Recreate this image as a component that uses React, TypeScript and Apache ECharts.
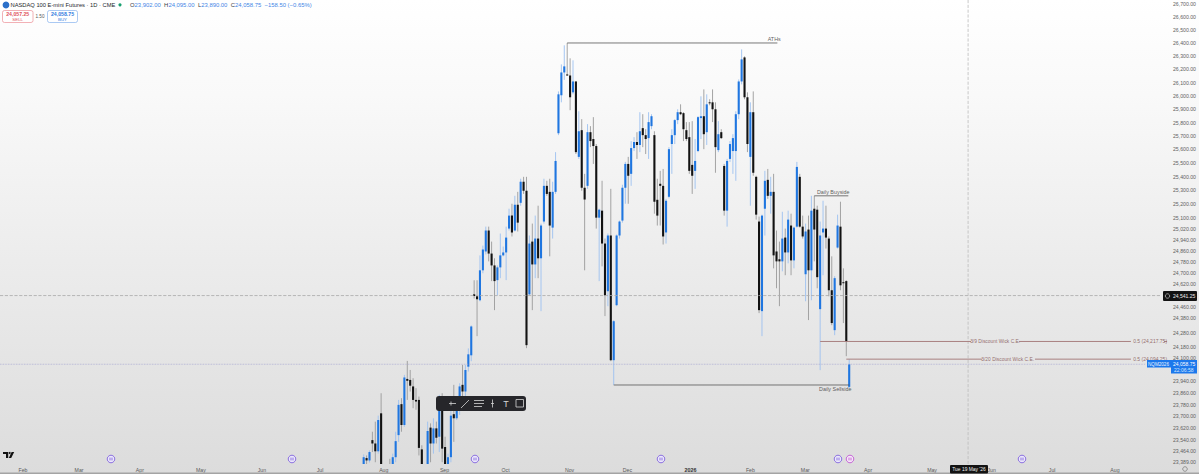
import React, { useEffect, useRef } from "react";
import * as echarts from "echarts";

const opens = [
  23360,23415,23399,23537,23514,23461,23720,23340,23300,23360,
  23350,23421,23571,23783,23640,23957,23950,23905,23812,23812,
  23474,23330,23350,23622,23514,23617,23560,23812,23490,23360,
  23421,23714,23686,23767,23916,23870,24042,24121,24550,24536,
  24508,24721,24856,25007,24841,24756,24651,24742,24828,24849,
  25021,25115,25007,25194,25208,25362,25296,24550,24927,24763,
  24949,24807,25072,25332,25288,25028,25288,25720,26004,26176,
  26161,26153,26026,26108,25545,25743,25318,25332,25728,25677,
  25625,25100,25151,24913,24572,24971,24087,24473,24971,25079,
  25318,25493,25420,25610,25655,25633,25758,25706,25684,25773,
  25706,25230,25347,25332,24993,25252,25640,25706,25818,25877,
  25870,25743,25691,25486,25442,25588,25833,25847,25728,25951,
  25951,25899,25595,25728,25478,25151,25530,25588,25588,25862,
  26108,26290,25989,25545,25877,25398,25072,24431,25165,25376,
  25259,25288,24856,24800,24785,24956,24849,25043,24792,25035,
  25398,25035,24693,25014,24721,25165,25158,24445,24993,25021,
  24949,24579,24297,24884,25035,24636,24644,23902,
];
const closes = [
  23421,23399,23456,23514,23461,23674,23360,23300,23340,23330,
  23421,23530,23778,23640,23967,23944,23910,23812,23801,23484,
  23340,23300,23599,23514,23617,23553,23812,23479,23370,23421,
  23704,23686,23770,23905,23870,24019,24128,24323,24538,24515,
  24721,24870,25007,24841,24756,24644,24742,24828,24849,24956,
  25115,24993,25194,25064,25362,25296,24192,24913,24763,24949,
  24807,25043,25332,25273,25043,25288,25515,26011,26176,26222,
  26153,25989,26108,25580,25735,25318,25232,25728,25662,25625,
  25100,25158,24913,24543,24971,24087,24360,24971,25072,25318,
  25493,25406,25610,25655,25633,25735,25706,25677,25803,25847,
  25216,25115,25332,24964,25223,25602,25706,25818,25877,25862,
  25750,25677,25442,25406,25515,25840,25847,25713,25936,25944,
  25899,25617,25713,25684,25151,25515,25640,25684,25862,26108,
  26275,25989,25640,25877,25428,25122,24438,25115,25369,25259,
  25288,24828,24785,24785,24949,24849,25086,24792,25028,25471,
  25035,24964,25000,24721,25151,25014,24672,24971,25021,24956,
  24579,24347,24665,25043,24614,24629,24217.25,24058.75,
];
const highs = [
  23440,23433,23467,23594,23663,23704,23858,23370,23370,23410,
  23445,23594,23812,23824,23985,24082,24019,23962,23893,23835,
  23502,23370,23663,23651,23686,23663,23847,23858,23560,23445,
  23755,23916,23790,23927,24054,24054,24169,24330,24650,24650,
  24828,24898,25035,25035,24927,24807,24756,24985,24891,25035,
  25165,25201,25259,25288,25384,25398,25398,24971,25057,25115,
  25187,25057,25384,25369,25384,25362,25580,26033,26237,26382,
  26400,26283,26268,26108,25884,25825,25420,25788,25773,25840,
  25640,25165,25369,24949,24985,25310,24368,24978,25079,25340,
  25508,25545,25662,25691,25728,25877,25862,25750,25877,25862,
  25735,25384,25442,25456,25237,25617,25750,25825,25899,25936,
  25877,25803,25803,25810,25677,25847,25996,26048,26011,25974,
  26048,25951,25810,25750,25493,25530,25662,25713,25884,26123,
  26351,26298,26026,25951,26033,25406,25108,25122,25442,25456,
  25398,25420,25007,24927,25143,25021,25151,25129,25035,25508,
  25420,25115,25057,25115,25259,25259,25187,25072,25223,25187,
  24964,24821,24679,25122,25216,24735,24650,24095,
];
const lows = [
  23330,23370,23385,23456,23387,23445,23340,23280,23280,23300,
  23330,23387,23525,23594,23628,23812,23870,23755,23744,23433,
  23300,23280,23320,23387,23445,23514,23456,23387,23340,23330,
  23387,23525,23674,23709,23835,23824,24008,24080,24520,24255,
  24500,24700,24835,24785,24644,24438,24543,24665,24821,24651,
  25007,24964,25000,25000,25187,25273,24171,24543,24438,24665,
  24665,24431,25057,25259,24821,24949,25273,25706,25951,26120,
  26150,25892,26011,25566,25530,25296,24721,25310,25617,25493,
  25021,24644,24749,24396,24466,24080,23915,24466,24949,25064,
  25201,25201,25332,25588,25530,25580,25617,25566,25530,25750,
  25129,25043,25043,24906,24913,25240,25420,25640,25788,25855,
  25662,25662,25420,25273,25310,25580,25677,25602,25633,25929,
  25803,25428,25580,25677,25115,25035,25508,25420,25369,25825,
  26086,25974,25580,25187,25406,25086,24417,24255,24971,25237,
  25129,24735,24593,24466,24714,24686,24771,24686,24735,25028,
  25028,24949,24501,24368,24508,24785,24593,24018,24686,24877,
  24536,24332,24262,24877,24579,24347,24115,23890,
];

const priceTicks = [
  26700,26600,26500,26400,26300,26200,26100,26000,25900,25800,25700,25600,25500,25400,25300,25200,25100,
  25020,24940,24860,24780,24700,24620,24460,24380,24280,24180,24100,23940,23860,23780,23700,23620,23540,23464,23389,
];
const monthLabels = ["Feb","Mar","Apr","May","Jun","Jul","Aug","Sep","Oct","Nov","Dec","2026","Feb","Mar","Apr","May","Jun","Jul","Aug"];
const monthBars = [-117.2,-97.9,-77,-56,-35,-15,6.9,27.8,48.8,70.8,90.7,112.4,133,151.9,173.5,195.5,216,236.8,258.4];

const ATH = 26400;
const BUYSIDE = 25259;
const SELLSIDE = 23915;
const CE_39 = 24217.75;
const CE_320 = 24094.25;
const CROSS_PRICE = 24541.25;
const LAST_PRICE = 24058.75;

const PRICE_MIN = 23375;
const PRICE_MAX = 26730;
const BAR_MIN = -125.09;
const BAR_MAX = 277.66;
const lg = (p: number) => Math.log10(p);
const fmt = (v: number) => v.toLocaleString("en-US", { minimumFractionDigits: 2, maximumFractionDigits: 2 });

const FONT = "Liberation Sans";
const BLUE = "#1f76e0";
const BLACK = "#121212";

function seg(name: string, pts: number[][], color: string, width: number, type: string = "solid") {
  return {
    type: "line", name, silent: true, showSymbol: false, symbol: "none", animation: false, z: 4,
    data: pts.map(([n, p]) => [n, lg(p)]),
    lineStyle: { color, width, type },
  };
}

function notes(items: { at: number[]; text: string; color: string; pos: string; size: number }[]) {
  return {
    type: "scatter", name: "notes", silent: true, symbolSize: 1, z: 6,
    itemStyle: { color: "rgba(0,0,0,0)" },
    data: items.map((it) => ({
      value: [it.at[0], lg(it.at[1])],
      label: {
        show: true, formatter: it.text, position: it.pos,
        distance: it.pos === "top" ? 0.6 : 1.5,
        color: it.color, fontSize: it.size, fontFamily: FONT,
      },
    })),
  };
}

function eventIcon(x: number, color: string, fill: string) {
  const y = 459;
  return {
    type: "group",
    children: [
      { type: "circle", shape: { cx: x, cy: y, r: 3.8 }, style: { fill, stroke: color, lineWidth: 1 } },
      { type: "line", shape: { x1: x - 2, y1: y - 0.8, x2: x + 2, y2: y - 0.8 }, style: { stroke: color, lineWidth: 0.7 } },
      { type: "line", shape: { x1: x - 2, y1: y + 0.8, x2: x + 2, y2: y + 0.8 }, style: { stroke: color, lineWidth: 0.7 } },
    ],
  };
}

function graphics() {
  const tx = (x: number, y: number, text: string, fill: string, size: number, extra: any = {}) => ({
    type: "text", x, y, z: 20,
    style: { text, fill, fontSize: size, fontFamily: FONT, verticalAlign: "middle", ...extra },
  });
  const ln = (x1: number, y1: number, x2: number, y2: number, w = 0.8) => ({
    type: "line", z: 21, shape: { x1, y1, x2, y2 }, style: { stroke: "#d6d6d6", lineWidth: w },
  });
  return [
    // header
    { type: "circle", z: 20, shape: { cx: 6, cy: 5, r: 3.4 }, style: { fill: "#2a6fc9" } },
    tx(10.5, 5.2, "NASDAQ 100 E-mini Futures · 1D · CME", "#26282e", 5.75),
    { type: "circle", z: 20, shape: { cx: 120, cy: 4.8, r: 1.6 }, style: { fill: "#18a070" } },
    {
      type: "text", x: 130, y: 5.2, z: 20,
      style: {
        text: "{k|O}{v|23,902.00} {k|H}{v|24,095.00} {k|L}{v|23,890.00} {k|C}{v|24,058.75} {v|−158.50 (−0.65%)}",
        fontFamily: FONT, verticalAlign: "middle",
        rich: {
          k: { fill: "#3a3d44", fontSize: 5.9, fontFamily: FONT },
          v: { fill: "#3f86e6", fontSize: 5.9, fontFamily: FONT },
        },
      },
    },
    { type: "rect", z: 20, shape: { x: 2.5, y: 10.5, width: 30.5, height: 12, r: 2 }, style: { fill: "#ffffff", stroke: "#ec8f97", lineWidth: 0.7 } },
    tx(17.7, 13.7, "24,057.25", "#e0525c", 5.2, { align: "center", fontWeight: "bold" }),
    tx(17.7, 19.3, "SELL", "#e0525c", 4.4, { align: "center" }),
    tx(40, 16.5, "1.50", "#555", 4.6, { align: "center" }),
    { type: "rect", z: 20, shape: { x: 47.5, y: 10.5, width: 30, height: 12, r: 2 }, style: { fill: "#ffffff", stroke: "#85b2ee", lineWidth: 0.7 } },
    tx(62.5, 13.7, "24,058.75", "#2f7be0", 5.2, { align: "center", fontWeight: "bold" }),
    tx(62.5, 19.3, "BUY", "#2f7be0", 4.4, { align: "center" }),
    // drawing toolbar
    { type: "rect", z: 20, shape: { x: 436, y: 396, width: 90, height: 15, r: 3 }, style: { fill: "#26262a" } },
    ln(449, 403.5, 456, 403.5), ln(451, 401.5, 451, 405.5),
    ln(461, 408, 469, 400),
    ln(474, 400.5, 484, 400.5), ln(474, 403.5, 484, 403.5), ln(474, 406.5, 482, 406.5),
    ln(492.5, 399.5, 492.5, 407.5), ln(491, 403.5, 494, 403.5),
    tx(506, 403.8, "T", "#d6d6d6", 9, { align: "center" }),
    { type: "rect", z: 21, shape: { x: 516, y: 399.5, width: 7.5, height: 7.5 }, style: { fill: "none", stroke: "#d6d6d6", lineWidth: 0.8 } },
    // event marks along the bottom
    eventIcon(111, "#8b6fe0", "#ece9fb"),
    eventIcon(292, "#8b6fe0", "#ece9fb"),
    eventIcon(475, "#8b6fe0", "#ece9fb"),
    eventIcon(661, "#8b6fe0", "#ece9fb"),
    eventIcon(838, "#8b6fe0", "#ece9fb"),
    eventIcon(850, "#c565d6", "#f5e9f8"),
    eventIcon(1022, "#8b6fe0", "#ece9fb"),
    // brand mark
    { type: "polygon", z: 20, shape: { points: [[3, 452], [8.2, 452], [8.2, 458], [6, 458], [6, 454], [3, 454]] }, style: { fill: "#111" } },
    { type: "circle", z: 20, shape: { cx: 9.6, cy: 453, r: 1 }, style: { fill: "#111" } },
    { type: "polygon", z: 20, shape: { points: [[11.6, 452], [14.2, 452], [11.2, 458], [8.8, 458]] }, style: { fill: "#111" } },
    // price tags
    { type: "rect", z: 20, shape: { x: 1163, y: 291, width: 34, height: 10, r: 1 }, style: { fill: "#131313" } },
    { type: "circle", z: 21, shape: { cx: 1167.5, cy: 296, r: 2.2 }, style: { fill: "none", stroke: "#c8c8c8", lineWidth: 0.7 } },
    tx(1173, 296.3, "24,541.25", "#f0f0f0", 5),
    { type: "rect", z: 20, shape: { x: 1147, y: 360, width: 24, height: 7.5 }, style: { fill: "#1c78ec" } },
    tx(1148, 364, "NQM2026", "#eef5ff", 4.6),
    { type: "rect", z: 20, shape: { x: 1171, y: 360, width: 26, height: 13.5 }, style: { fill: "#1c78ec" } },
    tx(1173, 364, "24,058.75", "#ffffff", 5),
    tx(1174, 370, "22:06:58", "#d7e8ff", 5),
    // crosshair date and bottom edge
    { type: "rect", z: 20, shape: { x: 950, y: 465, width: 38, height: 8.5, r: 1 }, style: { fill: "#131313" } },
    tx(969, 469.2, "Tue 19 May '26", "#f0f0f0", 4.9, { align: "center" }),
    { type: "circle", z: 20, shape: { cx: 1185, cy: 469, r: 2.3 }, style: { fill: "none", stroke: "#777", lineWidth: 0.7 } },
    { type: "rect", z: 19, shape: { x: 0, y: 472.5, width: 1199, height: 1.5 }, style: { fill: "#a4a4a4" } },
  ];
}

export default function App() {
  const ref = useRef<HTMLDivElement>(null);
  useEffect(() => {
    document.body.style.margin = "0";
    const chart = echarts.init(ref.current!, undefined, { renderer: "svg" });
    const bars = opens.map((o, i) => [i, lg(o), lg(closes[i]), lg(lows[i]), lg(highs[i])]);
    chart.setOption({
      animation: false,
      backgroundColor: new echarts.graphic.LinearGradient(0, 0, 0, 1, [
        { offset: 0, color: "#ffffff" },
        { offset: 0.2, color: "#f9f9f9" },
        { offset: 0.55, color: "#ececec" },
        { offset: 1, color: "#dcdcdc" },
      ]),
      grid: { left: 0, right: 27, top: 0, bottom: 10 },
      xAxis: {
        type: "value", min: BAR_MIN, max: BAR_MAX,
        axisLine: { show: false }, axisTick: { show: false }, splitLine: { show: false },
        axisLabel: {
          customValues: monthBars, margin: 3, fontSize: 5.2, fontFamily: FONT, color: "#5a5a5a",
          hideOverlap: false,
          formatter: (v: number) => {
            const i = monthBars.findIndex((m) => Math.abs(m - v) < 0.01);
            const s = monthLabels[i] ?? "";
            return s === "2026" ? `{b|${s}}` : s;
          },
          rich: { b: { fontWeight: "bold", fontSize: 5.4, fontFamily: FONT, color: "#333" } },
        },
      },
      yAxis: {
        type: "value", position: "right", scale: true, min: lg(PRICE_MIN), max: lg(PRICE_MAX),
        axisLine: { show: false }, axisTick: { show: false }, splitLine: { show: false },
        axisLabel: {
          customValues: priceTicks.map(lg), margin: 2, fontSize: 5.2, fontFamily: FONT, color: "#5f5f5f",
          hideOverlap: false, align: "left",
          formatter: (v: number) => {
            const p = Math.pow(10, v);
            const t = priceTicks.reduce((a, b) => (Math.abs(b - p) < Math.abs(a - p) ? b : a));
            return fmt(t);
          },
        },
      },
      series: [
        seg("cross-h", [[BAR_MIN, CROSS_PRICE], [274, CROSS_PRICE]], "#a9a9a9", 0.8, "dashed"),
        seg("cross-v", [[207.9, PRICE_MIN], [207.9, PRICE_MAX]], "#bdbdbd", 0.8, "dashed"),
        seg("last", [[BAR_MIN, LAST_PRICE], [269, LAST_PRICE]], "#a9a9d2", 0.8, "dotted"),
        {
          type: "custom", name: "NQ", clip: true, z: 3, silent: true,
          data: bars,
          encode: { x: 0, y: [1, 2, 3, 4] },
          renderItem: (_: any, api: any) => {
            const n = api.value(0);
            const o = api.value(1), c = api.value(2), l = api.value(3), h = api.value(4);
            const up = c >= o;
            const [x, yh] = api.coord([n, h]);
            const [, yl] = api.coord([n, l]);
            const [, yo] = api.coord([n, o]);
            const [, yc] = api.coord([n, c]);
            const top = Math.min(yo, yc);
            const ht = Math.max(1, Math.abs(yo - yc));
            return {
              type: "group",
              children: [
                { type: "line", shape: { x1: x, y1: yh, x2: x, y2: yl }, style: { stroke: up ? "#9cc1f0" : "#9a9a9a", lineWidth: 0.9 } },
                { type: "rect", shape: { x: x - 1.05, y: top, width: 2.1, height: ht }, style: { fill: up ? BLUE : BLACK } },
              ],
            };
          },
        },
        seg("ATH", [[70, ATH], [142.3, ATH]], "#555", 0.8),
        seg("Buyside", [[155, BUYSIDE], [166.7, BUYSIDE]], "#555", 0.8),
        seg("Sellside", [[86, SELLSIDE], [167, SELLSIDE]], "#555", 0.8),
        seg("CE39a", [[157, CE_39], [208.9, CE_39]], "#a98080", 1),
        seg("CE39b", [[225.4, CE_39], [263.9, CE_39]], "#a98080", 1),
        seg("CE39c", [[275.3, CE_39], [276.3, CE_39]], "#a98080", 1),
        seg("CE320a", [[166, CE_320], [212.7, CE_320]], "#a98080", 1),
        seg("CE320b", [[230.9, CE_320], [263.9, CE_320]], "#a98080", 1),
        notes([
          { at: [141.2, ATH], text: "ATHs", color: "#333", pos: "top", size: 5.4 },
          { at: [161.5, BUYSIDE], text: "Daily Buyside", color: "#333", pos: "top", size: 5.4 },
          { at: [162.2, SELLSIDE], text: "Daily Sellside", color: "#333", pos: "bottom", size: 5.4 },
          { at: [217.2, CE_39], text: "3/9 Discount Wick C.E.", color: "#7d4b4b", pos: "inside", size: 4.9 },
          { at: [221.5, CE_320], text: "3/20 Discount Wick C.E.", color: "#7d4b4b", pos: "inside", size: 4.9 },
          { at: [270.5, CE_39], text: "0.5 (24,217.75)", color: "#7d4b4b", pos: "inside", size: 5 },
          { at: [270.5, CE_320], text: "0.5 (24,094.25)", color: "#7d4b4b", pos: "inside", size: 5 },
        ]),
      ],
      graphic: graphics(),
    });
    return () => chart.dispose();
  }, []);
  return <div ref={ref} style={{ width: 1199, height: 474 }} />;
}
